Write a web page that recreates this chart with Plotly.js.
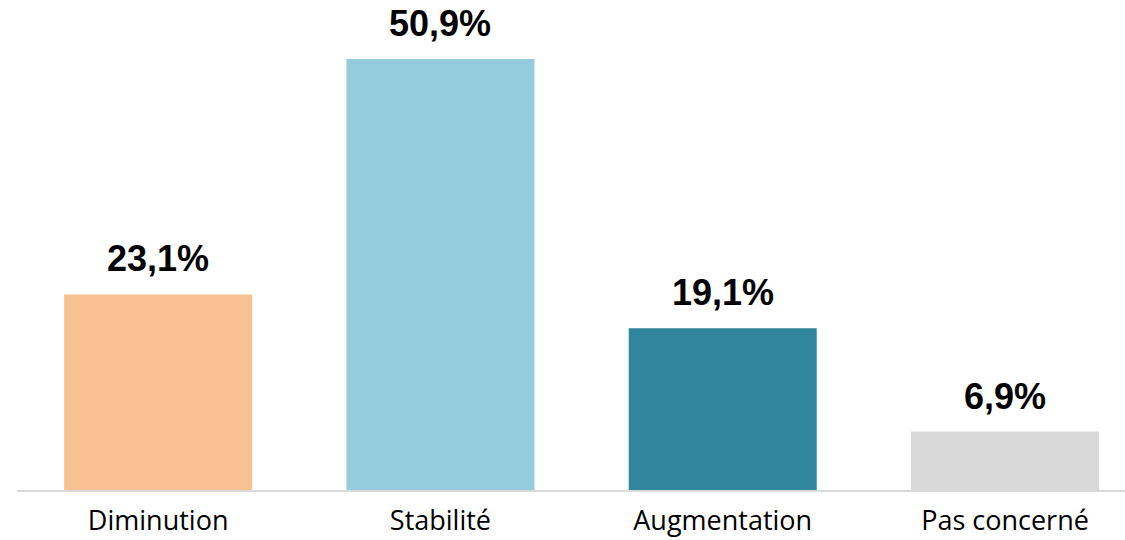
<!DOCTYPE html>
<html>
<head>
<meta charset="utf-8">
<script src="https://cdn.plot.ly/plotly-3.0.1.min.js"></script>
<style>html,body{margin:0;padding:0;background:#fff;}#chart{width:1125px;height:540px;}</style>
</head>
<body>
<div id="chart"></div>
<script>
const categories = ["Diminution", "Stabilité", "Augmentation", "Pas concerné"];
const values = [23.1, 50.9, 19.1, 6.9];
const valueLabels = ["23,1%", "50,9%", "19,1%", "6,9%"];
const barColors = ["#F8C192", "#95CCDD", "#31869E", "#D9D9D9"];

const trace = {
  type: "bar",
  x: categories,
  y: values,
  marker: {color: barColors, line: {width: 0}},
  hoverinfo: "skip"
};

const annotations = categories.map((c, i) => ({
  x: c, y: values[i], xref: "x", yref: "y",
  text: valueLabels[i], showarrow: false,
  yanchor: "bottom", yshift: 13,
  font: {family: "Liberation Sans, Arial, sans-serif", size: 36, color: "#000", weight: "bold"}
}));

const layout = {
  width: 1125, height: 540,
  margin: {l: 17, r: 0, t: 0, b: 50},
  paper_bgcolor: "#fff", plot_bgcolor: "#fff",
  showlegend: false,
  bargap: 0.334,
  xaxis: {
    type: "category",
    range: [-0.5, 3.425],
    showline: true, linecolor: "#D9D9D9", linewidth: 1.5,
    ticks: "", showgrid: false, zeroline: false,
    ticklabelstandoff: 6,
    tickfont: {family: "Open Sans, sans-serif", size: 27, color: "#000"}
  },
  yaxis: {
    range: [0, 57.87],
    visible: false, showgrid: false, zeroline: false
  },
  annotations: annotations
};

Plotly.newPlot("chart", [trace], layout, {displayModeBar: false, staticPlot: true});
</script>
</body>
</html>
